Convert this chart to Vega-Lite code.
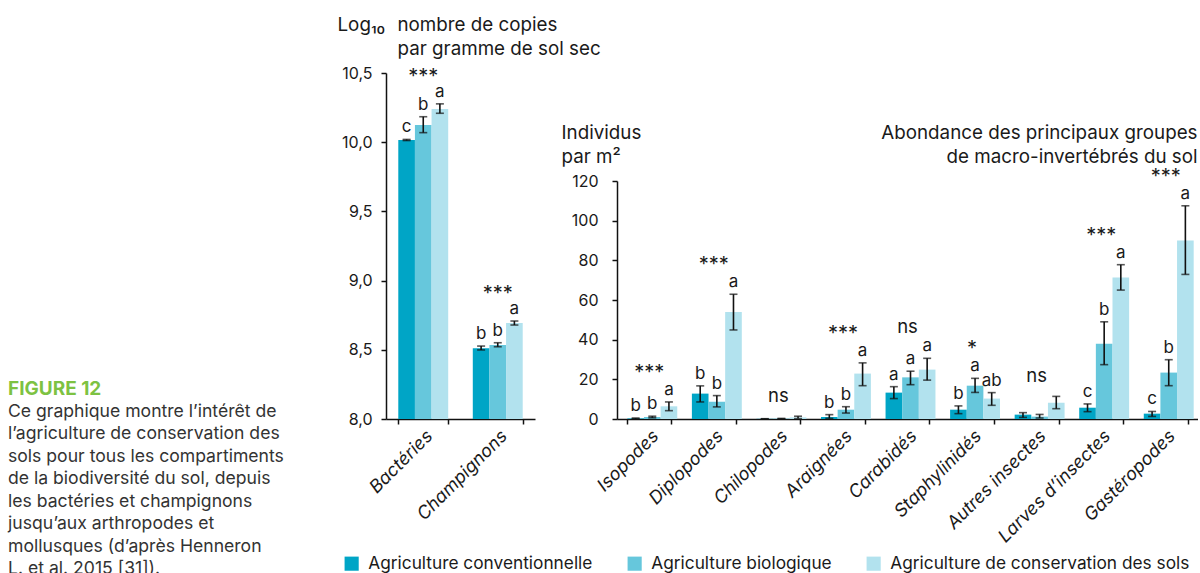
{
  "$schema": "https://vega.github.io/schema/vega-lite/v6.json",
  "padding": {"left": 8, "top": 15, "right": 0, "bottom": 0},
  "datasets": {
    "micro": [
      {"group": "Bactéries", "system": "Agriculture conventionnelle", "value": 10.016, "lo": 10.012, "hi": 10.02, "letter": "c", "sig": "***"},
      {"group": "Bactéries", "system": "Agriculture biologique", "value": 10.124, "lo": 10.069, "hi": 10.184, "letter": "b", "sig": "***"},
      {"group": "Bactéries", "system": "Agriculture de conservation des sols", "value": 10.24, "lo": 10.209, "hi": 10.277, "letter": "a", "sig": "***"},
      {"group": "Champignons", "system": "Agriculture conventionnelle", "value": 8.511, "lo": 8.499, "hi": 8.527, "letter": "b", "sig": "***"},
      {"group": "Champignons", "system": "Agriculture biologique", "value": 8.535, "lo": 8.522, "hi": 8.551, "letter": "b", "sig": "***"},
      {"group": "Champignons", "system": "Agriculture de conservation des sols", "value": 8.694, "lo": 8.679, "hi": 8.708, "letter": "a", "sig": "***"}
    ],
    "macro": [
      {"group": "Isopodes", "system": "Agriculture conventionnelle", "value": 0.3, "lo": 0.1, "hi": 0.5, "letter": "b", "sig": "***"},
      {"group": "Isopodes", "system": "Agriculture biologique", "value": 1.0, "lo": 0.6, "hi": 1.4, "letter": "b", "sig": "***"},
      {"group": "Isopodes", "system": "Agriculture de conservation des sols", "value": 6.4, "lo": 4.2, "hi": 8.6, "letter": "a", "sig": "***"},
      {"group": "Diplopodes", "system": "Agriculture conventionnelle", "value": 12.8, "lo": 8.6, "hi": 16.7, "letter": "b", "sig": "***"},
      {"group": "Diplopodes", "system": "Agriculture biologique", "value": 8.7, "lo": 6.1, "hi": 11.8, "letter": "b", "sig": "***"},
      {"group": "Diplopodes", "system": "Agriculture de conservation des sols", "value": 53.9, "lo": 44.9, "hi": 62.9, "letter": "a", "sig": "***"},
      {"group": "Chilopodes", "system": "Agriculture conventionnelle", "value": 0.1, "lo": 0.05, "hi": 0.15, "letter": "", "sig": "ns"},
      {"group": "Chilopodes", "system": "Agriculture biologique", "value": 0.2, "lo": 0.1, "hi": 0.3, "letter": "", "sig": "ns"},
      {"group": "Chilopodes", "system": "Agriculture de conservation des sols", "value": 0.8, "lo": 0.2, "hi": 1.4, "letter": "", "sig": "ns"},
      {"group": "Araignées", "system": "Agriculture conventionnelle", "value": 1.0, "lo": 0.3, "hi": 2.2, "letter": "b", "sig": "***"},
      {"group": "Araignées", "system": "Agriculture biologique", "value": 4.7, "lo": 3.0, "hi": 6.2, "letter": "b", "sig": "***"},
      {"group": "Araignées", "system": "Agriculture de conservation des sols", "value": 22.9, "lo": 16.8, "hi": 28.3, "letter": "a", "sig": "***"},
      {"group": "Carabidés", "system": "Agriculture conventionnelle", "value": 13.3, "lo": 10.3, "hi": 16.3, "letter": "a", "sig": "ns"},
      {"group": "Carabidés", "system": "Agriculture biologique", "value": 21.0, "lo": 17.3, "hi": 24.1, "letter": "a", "sig": "ns"},
      {"group": "Carabidés", "system": "Agriculture de conservation des sols", "value": 24.9, "lo": 19.6, "hi": 30.6, "letter": "a", "sig": "ns"},
      {"group": "Staphylinidés", "system": "Agriculture conventionnelle", "value": 4.7, "lo": 2.7, "hi": 6.6, "letter": "b", "sig": "*"},
      {"group": "Staphylinidés", "system": "Agriculture biologique", "value": 16.8, "lo": 13.4, "hi": 20.5, "letter": "a", "sig": "*"},
      {"group": "Staphylinidés", "system": "Agriculture de conservation des sols", "value": 10.3, "lo": 6.9, "hi": 13.3, "letter": "ab", "sig": "*"},
      {"group": "Autres insectes", "system": "Agriculture conventionnelle", "value": 2.2, "lo": 0.8, "hi": 3.2, "letter": "", "sig": "ns"},
      {"group": "Autres insectes", "system": "Agriculture biologique", "value": 1.2, "lo": 0.5, "hi": 2.3, "letter": "", "sig": "ns"},
      {"group": "Autres insectes", "system": "Agriculture de conservation des sols", "value": 8.2, "lo": 5.2, "hi": 11.4, "letter": "", "sig": "ns"},
      {"group": "Larves d’insectes", "system": "Agriculture conventionnelle", "value": 5.7, "lo": 3.7, "hi": 7.6, "letter": "c", "sig": "***"},
      {"group": "Larves d’insectes", "system": "Agriculture biologique", "value": 38.0, "lo": 27.4, "hi": 49.0, "letter": "b", "sig": "***"},
      {"group": "Larves d’insectes", "system": "Agriculture de conservation des sols", "value": 71.4, "lo": 65.0, "hi": 77.8, "letter": "a", "sig": "***"},
      {"group": "Gastéropodes", "system": "Agriculture conventionnelle", "value": 2.7, "lo": 1.3, "hi": 3.8, "letter": "c", "sig": "***"},
      {"group": "Gastéropodes", "system": "Agriculture biologique", "value": 23.4, "lo": 16.8, "hi": 29.9, "letter": "b", "sig": "***"},
      {"group": "Gastéropodes", "system": "Agriculture de conservation des sols", "value": 90.0, "lo": 72.9, "hi": 107.5, "letter": "a", "sig": "***"}
    ],
    "caption": [
      {"line": 1, "text": "FIGURE 12"},
      {"line": 2, "text": "Ce graphique montre l’intérêt de"},
      {"line": 3, "text": "l’agriculture de conservation des"},
      {"line": 4, "text": "sols pour tous les compartiments"},
      {"line": 5, "text": "de la biodiversité du sol, depuis"},
      {"line": 6, "text": "les bactéries et champignons"},
      {"line": 7, "text": "jusqu’aux arthropodes et"},
      {"line": 8, "text": "mollusques (d’après Henneron"},
      {"line": 9, "text": "L. et al. 2015 [31])."}
    ]
  },
  "bounds": "flush",
  "spacing": 82,
  "resolve": {"scale": {"color": "shared", "x": "independent", "y": "independent"}},
  "hconcat": [
    {
      "width": 296,
      "height": 346,
      "data": {"name": "caption"},
      "encoding": {
        "x": {"datum": 0, "type": "quantitative", "scale": {"domain": [0, 1]}, "axis": null},
        "y": {"field": "line", "type": "quantitative", "scale": {"domain": [-13.045, 2.333], "reverse": true, "zero": false, "nice": false}, "axis": null},
        "text": {"field": "text"}
      },
      "layer": [
        {"transform": [{"filter": "datum.line === 1"}], "mark": {"type": "text", "align": "left", "baseline": "middle", "fontSize": 19, "fontWeight": "bold", "color": "#7dc242"}},
        {"transform": [{"filter": "datum.line > 1"}], "mark": {"type": "text", "align": "left", "baseline": "middle", "fontSize": 17.6, "color": "#333333"}}
      ]
    },
    {
      "width": 149,
      "height": 346,
      "data": {"name": "micro"},
      "encoding": {
        "x": {"field": "group", "type": "nominal", "sort": ["Bactéries", "Champignons"], "scale": {"paddingInner": 0.33, "paddingOuter": 0.165},
          "axis": {"title": ["nombre de copies", "par gramme de sol sec"], "titleAngle": 0, "titleAlign": "left", "titleBaseline": "alphabetic", "titleX": 11, "titleY": -389, "titleLineHeight": 24, "labelAngle": -45, "labelAlign": "right", "labelBaseline": "top", "labelFontStyle": "italic", "labelFontSize": 18, "labelPadding": 3, "tickBand": "extent"}}
      },
      "layer": [
        {"mark": {"type": "bar", "clip": true},
         "encoding": {
           "xOffset": {"field": "system", "type": "nominal", "sort": ["Agriculture conventionnelle", "Agriculture biologique", "Agriculture de conservation des sols"], "scale": {"paddingInner": 0, "paddingOuter": 0}},
           "y": {"field": "value", "type": "quantitative", "scale": {"domain": [8, 10.5], "zero": false, "nice": false},
             "axis": {"title": "Log₁₀", "titleAngle": 0, "titleAlign": "left", "titleBaseline": "alphabetic", "titleX": -49, "titleY": -43, "values": [8, 8.5, 9, 9.5, 10, 10.5], "labelExpr": "replace(format(datum.value, '.1f'), '.', ',')", "labelPadding": 9}},
           "color": {"field": "system", "type": "nominal", "sort": ["Agriculture conventionnelle", "Agriculture biologique", "Agriculture de conservation des sols"],
             "scale": {"domain": ["Agriculture conventionnelle", "Agriculture biologique", "Agriculture de conservation des sols"], "range": ["#00a5c6", "#66c7dc", "#b2e2ee"]},
             "legend": {"title": null, "orient": "none", "legendX": 335, "legendY": 482, "direction": "horizontal"}}
         }},
        {"mark": {"type": "rule", "color": "#111111", "strokeWidth": 1.6},
         "encoding": {
           "xOffset": {"field": "system", "type": "nominal", "sort": ["Agriculture conventionnelle", "Agriculture biologique", "Agriculture de conservation des sols"], "scale": {"paddingInner": 0, "paddingOuter": 0}},
           "y": {"field": "lo", "type": "quantitative", "scale": {"domain": [8, 10.5], "zero": false, "nice": false}}, "y2": {"field": "hi"}}},
        {"mark": {"type": "tick", "color": "#111111", "thickness": 1.6, "size": 8},
         "encoding": {
           "xOffset": {"field": "system", "type": "nominal", "sort": ["Agriculture conventionnelle", "Agriculture biologique", "Agriculture de conservation des sols"], "scale": {"paddingInner": 0, "paddingOuter": 0}},
           "y": {"field": "lo", "type": "quantitative", "scale": {"domain": [8, 10.5], "zero": false, "nice": false}}}},
        {"mark": {"type": "tick", "color": "#111111", "thickness": 1.6, "size": 8},
         "encoding": {
           "xOffset": {"field": "system", "type": "nominal", "sort": ["Agriculture conventionnelle", "Agriculture biologique", "Agriculture de conservation des sols"], "scale": {"paddingInner": 0, "paddingOuter": 0}},
           "y": {"field": "hi", "type": "quantitative", "scale": {"domain": [8, 10.5], "zero": false, "nice": false}}}},
        {"mark": {"type": "text", "fontSize": 17, "color": "#1a1a1a", "baseline": "alphabetic", "dy": -7},
         "encoding": {
           "xOffset": {"field": "system", "type": "nominal", "sort": ["Agriculture conventionnelle", "Agriculture biologique", "Agriculture de conservation des sols"], "scale": {"paddingInner": 0, "paddingOuter": 0}},
           "y": {"field": "hi", "type": "quantitative", "scale": {"domain": [8, 10.5], "zero": false, "nice": false}}, "text": {"field": "letter"}}},
        {"transform": [{"joinaggregate": [{"op": "max", "field": "hi", "as": "top"}], "groupby": ["group"]}, {"filter": "datum.system === 'Agriculture conventionnelle'"}],
         "mark": {"type": "text", "fontSize": 20, "color": "#1a1a1a", "baseline": "alphabetic", "dy": -21},
         "encoding": {"y": {"field": "top", "type": "quantitative", "scale": {"domain": [8, 10.5], "zero": false, "nice": false}}, "text": {"field": "sig"}}}
      ]
    },
    {
      "width": 581,
      "height": 346,
      "data": {"name": "macro"},
      "encoding": {
        "x": {"field": "group", "type": "nominal", "sort": ["Isopodes", "Diplopodes", "Chilopodes", "Araignées", "Carabidés", "Staphylinidés", "Autres insectes", "Larves d’insectes", "Gastéropodes"], "scale": {"paddingInner": 0.32, "paddingOuter": 0.16},
          "axis": {"title": ["Abondance des principaux groupes", "de macro-invertébrés du sol"], "titleAngle": 0, "titleAlign": "right", "titleBaseline": "alphabetic", "titleX": 580, "titleY": -281, "titleLineHeight": 24, "labelAngle": -45, "labelAlign": "right", "labelBaseline": "top", "labelFontStyle": "italic", "labelFontSize": 18, "labelPadding": 3, "tickBand": "extent"}}
      },
      "layer": [
        {"mark": {"type": "bar", "clip": true},
         "encoding": {
           "xOffset": {"field": "system", "type": "nominal", "sort": ["Agriculture conventionnelle", "Agriculture biologique", "Agriculture de conservation des sols"], "scale": {"paddingInner": 0, "paddingOuter": 0}},
           "y": {"field": "value", "type": "quantitative", "scale": {"domain": [0, 120], "nice": false, "range": [346, 108]},
             "axis": {"title": ["Individus", "par m²"], "titleAngle": 0, "titleAlign": "left", "titleBaseline": "alphabetic", "titleX": -56, "titleY": 65, "titleLineHeight": 24, "values": [0, 20, 40, 60, 80, 100, 120], "labelPadding": 14}},
           "color": {"field": "system", "type": "nominal", "sort": ["Agriculture conventionnelle", "Agriculture biologique", "Agriculture de conservation des sols"],
             "scale": {"domain": ["Agriculture conventionnelle", "Agriculture biologique", "Agriculture de conservation des sols"], "range": ["#00a5c6", "#66c7dc", "#b2e2ee"]},
             "legend": {"title": null, "orient": "none", "legendX": 335, "legendY": 482, "direction": "horizontal"}}
         }},
        {"mark": {"type": "rule", "color": "#111111", "strokeWidth": 1.6},
         "encoding": {
           "xOffset": {"field": "system", "type": "nominal", "sort": ["Agriculture conventionnelle", "Agriculture biologique", "Agriculture de conservation des sols"], "scale": {"paddingInner": 0, "paddingOuter": 0}},
           "y": {"field": "lo", "type": "quantitative"}, "y2": {"field": "hi"}}},
        {"mark": {"type": "tick", "color": "#111111", "thickness": 1.6, "size": 8},
         "encoding": {
           "xOffset": {"field": "system", "type": "nominal", "sort": ["Agriculture conventionnelle", "Agriculture biologique", "Agriculture de conservation des sols"], "scale": {"paddingInner": 0, "paddingOuter": 0}},
           "y": {"field": "lo", "type": "quantitative"}}},
        {"mark": {"type": "tick", "color": "#111111", "thickness": 1.6, "size": 8},
         "encoding": {
           "xOffset": {"field": "system", "type": "nominal", "sort": ["Agriculture conventionnelle", "Agriculture biologique", "Agriculture de conservation des sols"], "scale": {"paddingInner": 0, "paddingOuter": 0}},
           "y": {"field": "hi", "type": "quantitative"}}},
        {"mark": {"type": "text", "fontSize": 17, "color": "#1a1a1a", "baseline": "alphabetic", "dy": -7},
         "encoding": {
           "xOffset": {"field": "system", "type": "nominal", "sort": ["Agriculture conventionnelle", "Agriculture biologique", "Agriculture de conservation des sols"], "scale": {"paddingInner": 0, "paddingOuter": 0}},
           "y": {"field": "hi", "type": "quantitative"}, "text": {"field": "letter"}}},
        {"transform": [{"joinaggregate": [{"op": "max", "field": "hi", "as": "top"}], "groupby": ["group"]}, {"filter": "datum.system === 'Agriculture conventionnelle' && datum.sig !== 'ns'"}],
         "mark": {"type": "text", "fontSize": 20, "color": "#1a1a1a", "baseline": "alphabetic", "dy": -23},
         "encoding": {"y": {"field": "top", "type": "quantitative"}, "text": {"field": "sig"}}},
        {"transform": [{"joinaggregate": [{"op": "max", "field": "hi", "as": "top"}], "groupby": ["group"]}, {"filter": "datum.system === 'Agriculture conventionnelle' && datum.sig === 'ns' && datum.letter !== ''"}],
         "mark": {"type": "text", "fontSize": 18.5, "color": "#1a1a1a", "baseline": "alphabetic", "dy": -25},
         "encoding": {"y": {"field": "top", "type": "quantitative"}, "text": {"field": "sig"}}},
        {"transform": [{"joinaggregate": [{"op": "max", "field": "hi", "as": "top"}], "groupby": ["group"]}, {"filter": "datum.system === 'Agriculture conventionnelle' && datum.letter === ''"}],
         "mark": {"type": "text", "fontSize": 18.5, "color": "#1a1a1a", "baseline": "alphabetic", "dy": -14},
         "encoding": {"y": {"field": "top", "type": "quantitative"}, "text": {"field": "sig"}}}
      ]
    }
  ],
  "config": {
    "font": "Inter",
    "view": {"stroke": null},
    "axis": {"grid": false, "domainColor": "#111111", "domainWidth": 1.5, "tickColor": "#111111", "tickWidth": 1.5, "tickSize": 5, "labelFont": "Inter", "labelFontSize": 16, "labelColor": "#1a1a1a", "titleFont": "Inter", "titleFontSize": 18.8, "titleFontWeight": "normal", "titleColor": "#1a1a1a"},
    "legend": {"symbolType": "square", "symbolSize": 200, "symbolStrokeWidth": 0, "labelFont": "Inter", "labelFontSize": 17.3, "labelColor": "#1a1a1a", "columnPadding": 33, "labelOffset": 8, "padding": 0, "labelLimit": 400}
  }
}
